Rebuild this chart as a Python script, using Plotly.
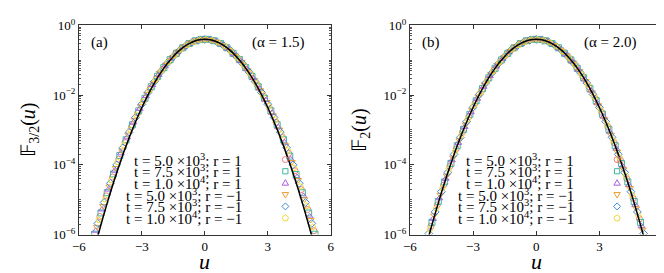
import plotly.graph_objects as go

# ---------------- data (log10 of F) ----------------
series_names = [
    "t = 5.0 ×10<sup>3</sup>; r = 1",
    "t = 7.5 ×10<sup>3</sup>; r = 1",
    "t = 1.0 ×10<sup>4</sup>; r = 1",
    "t = 5.0 ×10<sup>3</sup>; r = −1",
    "t = 7.5 ×10<sup>3</sup>; r = −1",
    "t = 1.0 ×10<sup>4</sup>; r = −1",
]

# Panel (a), alpha = 1.5
ua_0 = [-5.30,-5.00,-4.70,-4.40,-4.10,-3.80,-3.50,-3.20,-2.90,-2.60,-2.30,-2.00,-1.70,-1.40,-1.10,-0.80,-0.50,-0.20,0.10,0.40,0.70,1.00,1.30,1.60,1.90,2.20,2.50,2.80,3.10,3.40,3.70,4.00,4.30,4.60,4.90,5.20]
la_0 = [-6.10,-5.48,-4.89,-4.35,-3.84,-3.36,-2.92,-2.51,-2.14,-1.81,-1.51,-1.25,-1.02,-0.83,-0.66,-0.54,-0.45,-0.41,-0.40,-0.43,-0.51,-0.62,-0.77,-0.95,-1.17,-1.42,-1.71,-2.03,-2.39,-2.78,-3.21,-3.67,-4.17,-4.71,-5.28,-5.89]
ua_1 = [-5.25,-4.95,-4.65,-4.35,-4.05,-3.75,-3.45,-3.15,-2.85,-2.55,-2.25,-1.95,-1.65,-1.35,-1.05,-0.75,-0.45,-0.15,0.15,0.45,0.75,1.05,1.35,1.65,1.95,2.25,2.55,2.85,3.15,3.45,3.75,4.05,4.35,4.65,4.95,5.25]
la_1 = [-5.99,-5.38,-4.80,-4.26,-3.73,-3.28,-2.85,-2.45,-2.09,-1.76,-1.46,-1.21,-0.98,-0.80,-0.64,-0.52,-0.44,-0.40,-0.40,-0.44,-0.52,-0.64,-0.80,-0.98,-1.21,-1.46,-1.76,-2.09,-2.45,-2.85,-3.28,-3.75,-4.28,-4.80,-5.38,-5.99]
ua_2 = [-5.20,-4.90,-4.60,-4.30,-4.00,-3.70,-3.40,-3.10,-2.80,-2.50,-2.20,-1.90,-1.60,-1.30,-1.00,-0.70,-0.40,-0.10,0.20,0.50,0.80,1.10,1.40,1.70,2.00,2.30,2.60,2.90,3.20,3.50,3.80,4.10,4.40,4.70,5.00,5.30]
la_2 = [-5.89,-5.28,-4.71,-4.17,-3.67,-3.21,-2.78,-2.39,-2.03,-1.71,-1.42,-1.17,-0.95,-0.77,-0.62,-0.51,-0.43,-0.40,-0.41,-0.45,-0.54,-0.66,-0.83,-1.02,-1.25,-1.51,-1.81,-2.14,-2.51,-2.92,-3.36,-3.84,-4.35,-4.89,-5.48,-6.10]
ua_3 = [-5.15,-4.85,-4.55,-4.25,-3.95,-3.65,-3.35,-3.05,-2.75,-2.45,-2.15,-1.85,-1.55,-1.25,-0.95,-0.65,-0.35,-0.05,0.25,0.55,0.85,1.15,1.45,1.75,2.05,2.35,2.65,2.95,3.25,3.55,3.85,4.15,4.45,4.75,5.05,5.35]
la_3 = [-5.78,-5.18,-4.62,-4.09,-3.59,-3.13,-2.71,-2.32,-1.97,-1.66,-1.37,-1.13,-0.92,-0.74,-0.60,-0.49,-0.43,-0.40,-0.41,-0.47,-0.56,-0.69,-0.86,-1.05,-1.29,-1.56,-1.86,-2.20,-2.58,-2.99,-3.44,-3.92,-4.44,-4.99,-5.58,-6.21]
ua_4 = [-5.10,-4.80,-4.50,-4.20,-3.90,-3.60,-3.30,-3.00,-2.70,-2.40,-2.10,-1.80,-1.50,-1.20,-0.90,-0.60,-0.30,0.00,0.30,0.60,0.90,1.20,1.50,1.80,2.10,2.40,2.70,3.00,3.30,3.60,3.90,4.20,4.50,4.80,5.10]
la_4 = [-5.68,-5.08,-4.53,-4.00,-3.51,-3.06,-2.64,-2.26,-1.92,-1.61,-1.33,-1.09,-0.89,-0.71,-0.58,-0.48,-0.42,-0.40,-0.42,-0.48,-0.58,-0.71,-0.89,-1.09,-1.33,-1.61,-1.92,-2.26,-2.64,-3.06,-3.51,-4.00,-4.53,-5.08,-5.68]
ua_5 = [-5.35,-5.05,-4.75,-4.45,-4.15,-3.85,-3.55,-3.25,-2.95,-2.65,-2.35,-2.05,-1.75,-1.45,-1.15,-0.85,-0.55,-0.25,0.05,0.35,0.65,0.95,1.25,1.55,1.85,2.15,2.45,2.75,3.05,3.35,3.65,3.95,4.25,4.55,4.85,5.15]
la_5 = [-6.21,-5.58,-4.99,-4.44,-3.92,-3.44,-2.99,-2.58,-2.20,-1.86,-1.56,-1.29,-1.05,-0.86,-0.69,-0.56,-0.47,-0.41,-0.40,-0.43,-0.49,-0.60,-0.74,-0.92,-1.13,-1.37,-1.66,-1.97,-2.32,-2.71,-3.13,-3.59,-4.09,-4.62,-5.18,-5.78]

# Panel (b), alpha = 2.0
ub_0 = [-5.00,-4.70,-4.40,-4.10,-3.80,-3.50,-3.20,-2.90,-2.60,-2.30,-2.00,-1.70,-1.40,-1.10,-0.80,-0.50,-0.20,0.10,0.40,0.70,1.00,1.30,1.60,1.90,2.20,2.50,2.80,3.10,3.40,3.70,4.00,4.30,4.60,4.90]
lb_0 = [-5.76,-5.15,-4.58,-4.04,-3.54,-3.06,-2.62,-2.23,-1.87,-1.55,-1.27,-1.03,-0.83,-0.66,-0.54,-0.45,-0.41,-0.40,-0.43,-0.51,-0.62,-0.77,-0.96,-1.18,-1.45,-1.76,-2.10,-2.49,-2.91,-3.37,-3.87,-4.40,-4.96,-5.55]
ub_1 = [-4.95,-4.65,-4.35,-4.05,-3.75,-3.45,-3.15,-2.85,-2.55,-2.25,-1.95,-1.65,-1.35,-1.05,-0.75,-0.45,-0.15,0.15,0.45,0.75,1.05,1.35,1.65,1.95,2.25,2.55,2.85,3.15,3.45,3.75,4.05,4.35,4.65,4.95]
lb_1 = [-5.65,-5.05,-4.49,-3.96,-3.45,-2.98,-2.55,-2.16,-1.81,-1.50,-1.23,-0.99,-0.80,-0.64,-0.52,-0.44,-0.40,-0.40,-0.44,-0.52,-0.64,-0.80,-0.99,-1.23,-1.50,-1.81,-2.16,-2.55,-2.98,-3.45,-3.96,-4.49,-5.05,-5.65]
ub_2 = [-4.90,-4.60,-4.30,-4.00,-3.70,-3.40,-3.10,-2.80,-2.50,-2.20,-1.90,-1.60,-1.30,-1.00,-0.70,-0.40,-0.10,0.20,0.50,0.80,1.10,1.40,1.70,2.00,2.30,2.60,2.90,3.20,3.50,3.80,4.10,4.40,4.70,5.00]
lb_2 = [-5.55,-4.96,-4.40,-3.87,-3.37,-2.91,-2.49,-2.10,-1.76,-1.45,-1.18,-0.96,-0.77,-0.62,-0.51,-0.43,-0.40,-0.41,-0.45,-0.54,-0.66,-0.83,-1.03,-1.27,-1.55,-1.87,-2.23,-2.62,-3.06,-3.54,-4.04,-4.58,-5.15,-5.76]
ub_3 = [-5.15,-4.85,-4.55,-4.25,-3.95,-3.65,-3.35,-3.05,-2.75,-2.45,-2.15,-1.85,-1.55,-1.25,-0.95,-0.65,-0.35,-0.05,0.25,0.55,0.85,1.15,1.45,1.75,2.05,2.35,2.65,2.95,3.25,3.55,3.85,4.15,4.45,4.75,5.05]
lb_3 = [-6.07,-5.45,-4.86,-4.31,-3.79,-3.29,-2.84,-2.42,-2.04,-1.70,-1.40,-1.14,-0.92,-0.74,-0.60,-0.49,-0.43,-0.40,-0.41,-0.47,-0.56,-0.69,-0.86,-1.06,-1.31,-1.60,-1.92,-2.29,-2.69,-3.14,-3.62,-4.13,-4.67,-5.25,-5.86]
ub_4 = [-5.10,-4.80,-4.50,-4.20,-3.90,-3.60,-3.30,-3.00,-2.70,-2.40,-2.10,-1.80,-1.50,-1.20,-0.90,-0.60,-0.30,0.00,0.30,0.60,0.90,1.20,1.50,1.80,2.10,2.40,2.70,3.00,3.30,3.60,3.90,4.20,4.50,4.80,5.10]
lb_4 = [-5.97,-5.35,-4.77,-4.22,-3.70,-3.21,-2.76,-2.35,-1.98,-1.65,-1.36,-1.10,-0.89,-0.71,-0.58,-0.48,-0.42,-0.40,-0.42,-0.48,-0.58,-0.71,-0.89,-1.10,-1.36,-1.65,-1.98,-2.35,-2.76,-3.21,-3.70,-4.22,-4.77,-5.35,-5.97]
ub_5 = [-5.05,-4.75,-4.45,-4.15,-3.85,-3.55,-3.25,-2.95,-2.65,-2.35,-2.05,-1.75,-1.45,-1.15,-0.85,-0.55,-0.25,0.05,0.35,0.65,0.95,1.25,1.55,1.85,2.15,2.45,2.75,3.05,3.35,3.65,3.95,4.25,4.55,4.85,5.15]
lb_5 = [-5.86,-5.25,-4.67,-4.13,-3.62,-3.14,-2.69,-2.29,-1.92,-1.60,-1.31,-1.06,-0.86,-0.69,-0.56,-0.47,-0.41,-0.40,-0.43,-0.49,-0.60,-0.74,-0.92,-1.14,-1.40,-1.70,-2.04,-2.42,-2.84,-3.29,-3.79,-4.31,-4.86,-5.45,-6.07]

# Black reference curve (same in both panels)
u_curve = [-5.50,-5.25,-5.00,-4.75,-4.50,-4.25,-4.00,-3.75,-3.50,-3.25,-3.00,-2.75,-2.50,-2.25,-2.00,-1.75,-1.50,-1.25,-1.00,-0.75,-0.50,-0.25,0.00,0.25,0.50,0.75,1.00,1.25,1.50,1.75,2.00,2.25,2.50,2.75,3.00,3.25,3.50,3.75,4.00,4.25,4.50,4.75,5.00,5.25,5.50]
l_curve = [-6.968,-6.384,-5.828,-5.298,-4.796,-4.321,-3.873,-3.453,-3.059,-2.693,-2.353,-2.041,-1.756,-1.498,-1.268,-1.064,-0.888,-0.738,-0.616,-0.521,-0.453,-0.413,-0.399,-0.413,-0.453,-0.521,-0.616,-0.738,-0.888,-1.064,-1.268,-1.498,-1.756,-2.041,-2.353,-2.693,-3.059,-3.453,-3.873,-4.321,-4.796,-5.298,-5.828,-6.384,-6.968]

x_ticks = [-6, -3, 0, 3, 6]
y_ticks = [1e-6, 1e-4, 1e-2, 1e0]
y_ticktext = ["10<sup>−6</sup>", "10<sup>−4</sup>", "10<sup>−2</sup>", "10<sup>0</sup>"]

# ---------------- styling ----------------
symbols = ["circle-open", "square-open", "triangle-up-open",
           "triangle-down-open", "diamond-open", "pentagon-open"]
colors = ["#f07c74", "#3dbb9c", "#a95ee0", "#f0a030", "#3a8ad8", "#f0d83a"]
SERIF = "Liberation Serif"
W, H = 664, 273

panels = [
    dict(u=[ua_0, ua_1, ua_2, ua_3, ua_4, ua_5], l=[la_0, la_1, la_2, la_3, la_4, la_5],
         xa="x", ya="y", dom=[65 / W, 321 / W], tag="(a)", alpha="(α = 1.5)",
         ytitle="𝔽<sub>3/2</sub>(<i>u</i>)"),
    dict(u=[ub_0, ub_1, ub_2, ub_3, ub_4, ub_5], l=[lb_0, lb_1, lb_2, lb_3, lb_4, lb_5],
         xa="x2", ya="y2", dom=[401.5 / W, 658.5 / W], tag="(b)", alpha="(α = 2.0)",
         ytitle="𝔽<sub>2</sub>(<i>u</i>)"),
]
ydom = [1 - 232 / H, 1 - 9 / H]

fig = go.Figure()
annotations = []
shapes = []

for p in panels:
    for k in range(6):
        fig.add_trace(go.Scatter(
            x=p["u"][k], y=[10 ** v for v in p["l"][k]], mode="markers",
            name=series_names[k],
            marker=dict(symbol=symbols[k], size=6, color=colors[k],
                        line=dict(width=1, color=colors[k])),
            xaxis=p["xa"], yaxis=p["ya"], showlegend=False))
    fig.add_trace(go.Scatter(
        x=u_curve, y=[10 ** v for v in l_curve], mode="lines",
        line=dict(color="black", width=1.5, shape="spline", smoothing=0.6),
        xaxis=p["xa"], yaxis=p["ya"], showlegend=False))

    xr = p["xa"] + " domain"
    yr = p["ya"] + " domain"
    annotations.append(dict(text=p["tag"], xref=xr, yref=yr, x=0.082, y=0.919,
                            xanchor="center", yanchor="middle", showarrow=False,
                            font=dict(family=SERIF, size=15, color="black")))
    annotations.append(dict(text=p["alpha"], xref=xr, yref=yr, x=0.906, y=0.919,
                            xanchor="right", yanchor="middle", showarrow=False,
                            font=dict(family=SERIF, size=15, color="black")))
    # axis titles
    annotations.append(dict(text="<i>u</i>", xref=xr, yref="paper", x=0.5, y=1 - 261 / H,
                            xanchor="center", yanchor="middle", showarrow=False,
                            font=dict(family=SERIF, size=22, color="black")))
    annotations.append(dict(text=p["ytitle"], xref="paper", yref=yr,
                            x=(p["dom"][0] * W - 50) / W, y=0.5, textangle=-90,
                            xanchor="center", yanchor="middle", showarrow=False,
                            font=dict(family=SERIF, size=20, color="black")))
    # key (text at left, symbol at right, gnuplot style)
    row_y = [152, 164.5, 177, 189.5, 202, 214.5]
    for k in range(6):
        yd = 1 - (row_y[k] - 9) / 223
        annotations.append(dict(text=series_names[k], xref=xr, yref=yr, x=0.656, y=yd,
                                xanchor="right", yanchor="middle", showarrow=False,
                                font=dict(family=SERIF, size=15, color="black")))
        base = dict(xref=xr, yref=yr, xsizemode="pixel", ysizemode="pixel",
                    xanchor=0.82, yanchor=yd, line=dict(color=colors[k], width=1),
                    fillcolor="rgba(0,0,0,0)", layer="above")
        if k == 0:
            shapes.append(dict(type="circle", x0=-3, x1=3, y0=-3, y1=3, **base))
        elif k == 1:
            shapes.append(dict(type="rect", x0=-2.6, x1=2.6, y0=-2.6, y1=2.6, **base))
        elif k == 2:
            shapes.append(dict(type="path", path="M-3.2,-2.2 L3.2,-2.2 L0,3.3 Z", **base))
        elif k == 3:
            shapes.append(dict(type="path", path="M-3.2,2.2 L3.2,2.2 L0,-3.3 Z", **base))
        elif k == 4:
            shapes.append(dict(type="path", path="M0,3.5 L3.5,0 L0,-3.5 L-3.5,0 Z", **base))
        else:
            shapes.append(dict(type="path",
                               path="M0,3.3 L3.14,1.02 L1.94,-2.67 L-1.94,-2.67 L-3.14,1.02 Z",
                               **base))

axis_common = dict(showgrid=False, zeroline=False, showline=True, linecolor="#333",
                   linewidth=1, mirror="allticks", ticks="inside", ticklen=4,
                   tickcolor="#333", tickfont=dict(family=SERIF, size=13, color="black"))

layout_axes = {}
for i, p in enumerate(panels):
    sfx = "" if i == 0 else "2"
    layout_axes["xaxis" + sfx] = dict(domain=p["dom"], range=[-6, 6], tickvals=x_ticks,
                                      anchor="y" + sfx, **axis_common)
    layout_axes["yaxis" + sfx] = dict(domain=ydom, type="log", range=[-6, 0],
                                      tickvals=y_ticks, ticktext=y_ticktext,
                                      anchor="x" + sfx,
                                      minor=dict(ticks="inside", ticklen=2, dtick="D1",
                                                 tickcolor="#555", showgrid=False),
                                      **axis_common)

fig.update_layout(
    width=W, height=H, margin=dict(l=0, r=0, t=0, b=0),
    paper_bgcolor="white", plot_bgcolor="white", showlegend=False,
    font=dict(family=SERIF, color="black"),
    annotations=annotations, shapes=shapes, **layout_axes)

fig.write_html("out.html")
